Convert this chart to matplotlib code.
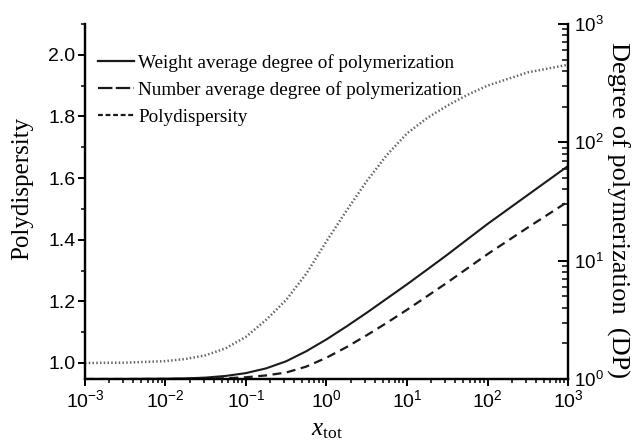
import matplotlib

matplotlib.use("Agg")
import matplotlib.pyplot as plt
from matplotlib.lines import Line2D
from matplotlib.ticker import LogLocator, MultipleLocator, NullFormatter

# values
x_tot = [1e-3, 3.16e-3, 1e-2, 1.78e-2, 3.16e-2, 5.62e-2, 1e-1, 1.78e-1, 3.16e-1,
         5.62e-1, 1e0, 1.78e0, 3.16e0, 5.62e0, 1e1, 1.78e1, 3.16e1, 5.62e1,
         1e2, 3.16e2, 1e3]
polydispersity = [1.000, 1.001, 1.006, 1.013, 1.025, 1.048, 1.085, 1.140, 1.205,
                  1.290, 1.395, 1.495, 1.590, 1.675, 1.745, 1.795, 1.835, 1.870,
                  1.900, 1.943, 1.968]
dp_weight = [1.00, 1.00, 1.005, 1.012, 1.028, 1.062, 1.122, 1.23, 1.413,
             1.718, 2.163, 2.786, 3.631, 4.786, 6.31, 8.41, 11.22, 15.14,
             20.42, 35.89, 63.1]
dp_number = [1.00, 1.00, 1.001, 1.002, 1.005, 1.016, 1.035, 1.072, 1.135,
             1.274, 1.514, 1.862, 2.344, 2.985, 3.846, 5.012, 6.531, 8.61,
             11.35, 19.05, 31.62]

x_ticks = [1e-3, 1e-2, 1e-1, 1e0, 1e1, 1e2, 1e3]
dp_ticks = [1, 10, 100, 1000]

legend_labels = ["Weight average degree of polymerization",
                 "Number average degree of polymerization",
                 "Polydispersity"]

SANS = ["Liberation Sans", "DejaVu Sans"]
SERIF = ["Liberation Serif", "DejaVu Serif"]
plt.rcParams["font.family"] = SANS
plt.rcParams["mathtext.fontset"] = "custom"
plt.rcParams["mathtext.rm"] = "Liberation Sans"
plt.rcParams["mathtext.it"] = "Liberation Serif:italic"

fig = plt.figure(figsize=(6.37, 4.48), dpi=100)
ax = fig.add_axes([0.1334, 0.154, 0.7583, 0.7924])
ax2 = ax.twinx()

ax.plot(x_tot, polydispersity, color="#666666", lw=1.8, ls=(0, (0.6, 0.9)))
ax2.plot(x_tot, dp_weight, color="#1a1a1a", lw=1.5, ls="-")
ax2.plot(x_tot, dp_number, color="#1a1a1a", lw=1.6, ls=(0, (4, 2.5)))

ax.set_xscale("log")
ax.set_xlim(1e-3, 1e3)
ax.set_ylim(0.948, 2.10)
ax2.set_yscale("log")
ax2.set_ylim(1, 1000)

for a in (ax, ax2):
    a.spines["top"].set_visible(False)
    for s in a.spines.values():
        s.set_linewidth(1.6)

ax.yaxis.set_major_locator(MultipleLocator(0.2))
ax.yaxis.set_minor_locator(MultipleLocator(0.1))
ax.yaxis.set_major_formatter(plt.FuncFormatter(lambda v, p: f"{v:.1f}"))
ax.set_xticks(x_ticks)
ax.xaxis.set_minor_locator(LogLocator(base=10, subs=range(2, 10), numticks=20))
ax.xaxis.set_minor_formatter(NullFormatter())
ax2.set_yticks(dp_ticks)
ax2.yaxis.set_minor_locator(LogLocator(base=10, subs=range(2, 10), numticks=20))
ax2.yaxis.set_minor_formatter(NullFormatter())
ax.set_xlim(1e-3, 1e3)
ax2.set_ylim(1, 1000)

ax.tick_params(axis="both", which="major", direction="out", length=5, width=1.4,
               labelsize=14, pad=2)
ax.tick_params(axis="both", which="minor", direction="out", length=3, width=1.1)
ax2.tick_params(axis="y", which="major", direction="in", length=7, width=1.4,
                labelsize=13.5, pad=4)
ax2.tick_params(axis="y", which="minor", direction="in", length=4, width=1.1)

ax.set_ylabel("Polydispersity", family=SERIF, fontsize=18)
ax.yaxis.set_label_coords(-0.108, 0.538)
ax2.set_ylabel("Degree of polymerization  (DP)", family=SERIF, fontsize=19,
               rotation=-90, va="center")
ax2.yaxis.set_label_coords(1.103, 0.476)
ax.set_xlabel(r"$x_{\mathregular{tot}}$", family=SERIF, fontsize=18, labelpad=6)

handles = [
    Line2D([], [], color="#1a1a1a", lw=1.6, ls="-"),
    Line2D([], [], color="#1a1a1a", lw=1.6, ls=(0, (6.5, 1.5))),
    Line2D([], [], color="#1a1a1a", lw=1.6, ls=(0, (2.2, 1.2))),
]
ax.legend(handles, legend_labels, loc="upper left", frameon=False,
          prop={"family": SERIF, "size": 13.8}, handlelength=1.9,
          handletextpad=0.2, labelspacing=0.5, borderpad=0, borderaxespad=0,
          bbox_to_anchor=(0.027, 0.916))

fig.savefig("out.png", dpi=100)
